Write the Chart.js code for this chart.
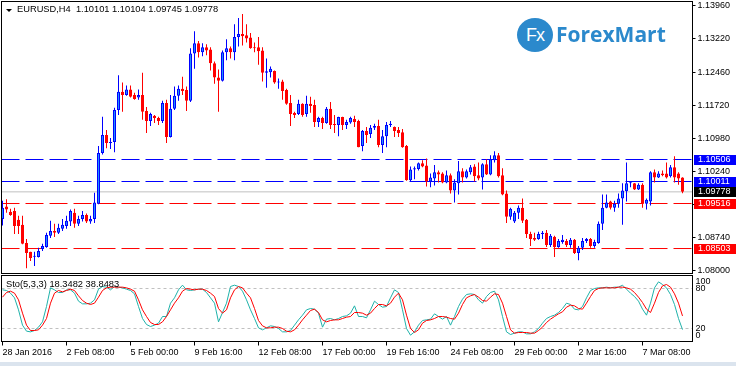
<!DOCTYPE html>
<html>
<head>
<meta charset="utf-8">
<script src="https://cdn.jsdelivr.net/npm/chart.js@4.4.1/dist/chart.umd.min.js"></script>
<style>
	html, body { margin: 0; padding: 0; background: #fff; }
	body { width: 736px; height: 366px; position: relative; overflow: hidden; font-family: 'Liberation Sans', Arial, sans-serif; }
	canvas { position: absolute; left: 0; }
	#price { top: 0; }
	#stoch { top: 274px; }
	.txt { position: absolute; white-space: pre; color: #000; font-size: 9.3px; line-height: 11px; }
	#title { left: 17px; top: 4px; }
	#stoLabel { left: 6px; top: 279px; }
	.tri { position: absolute; left: 6px; top: 9px; width: 0; height: 0; border-left: 3px solid transparent; border-right: 3px solid transparent; border-top: 3px solid #000; }
	.disc { position: absolute; left: 517px; top: 18px; width: 36px; height: 34px; border-radius: 50%; background: #2b89cc; color: #fff; font: 18px 'Liberation Sans', sans-serif; line-height: 34px; text-align: center; letter-spacing: -1px; }
	.brand { position: absolute; left: 556px; top: 21px; color: #2b89cc; font: bold 21px 'Open Sans', sans-serif; line-height: 26px; }
	.strip { position: absolute; left: 0; top: 362px; width: 736px; height: 4px; background: #dbe4ee; }
</style>
</head>
<body>
<canvas id="price" width="736" height="274"></canvas>
<canvas id="stoch" width="736" height="92"></canvas>
<div class="tri"></div>
<div class="txt" id="title"></div>
<div class="txt" id="stoLabel"></div>
<div class="disc">Fx</div>
<div class="brand">ForexMart</div>
<div class="strip"></div>
<script>
	const symbol = 'EURUSD,H4';

	// EURUSD H4 candles, 28 Jan - 9 Mar 2016
	const opens = [
		1.0917, 1.0945, 1.0933, 1.0935, 1.0915, 1.0904, 1.0863, 1.0843, 1.0832, 1.0831,
		1.0849, 1.0854, 1.0879, 1.0890, 1.0886, 1.0895, 1.0901, 1.0911, 1.0931, 1.0906,
		1.0917, 1.0926, 1.0911, 1.0917, 1.0951, 1.1065, 1.1106, 1.1088, 1.1090, 1.1162,
		1.1203, 1.1196, 1.1208, 1.1196, 1.1190, 1.1196, 1.1160, 1.1137, 1.1149, 1.1144,
		1.1137, 1.1178, 1.1101, 1.1165, 1.1194, 1.1210, 1.1207, 1.1183, 1.1289, 1.1312,
		1.1292, 1.1303, 1.1298, 1.1267, 1.1235, 1.1228, 1.1292, 1.1301, 1.1292, 1.1326,
		1.1333, 1.1330, 1.1325, 1.1303, 1.1303, 1.1296, 1.1246, 1.1247, 1.1250, 1.1224,
		1.1226, 1.1207, 1.1178, 1.1155, 1.1153, 1.1176, 1.1153, 1.1176, 1.1173, 1.1135,
		1.1144, 1.1133, 1.1165, 1.1130, 1.1128, 1.1146, 1.1128, 1.1134, 1.1142, 1.1137,
		1.1081, 1.1115, 1.1108, 1.1122, 1.1126, 1.1083, 1.1103, 1.1128, 1.1124, 1.1117,
		1.1112, 1.1081, 1.1004, 1.1028, 1.1029, 1.1042, 1.1037, 1.1001, 1.1008, 1.1022,
		1.1019, 1.0999, 1.1015, 1.0981, 1.0997, 1.1024, 1.1010, 1.1022, 1.1035, 1.1015,
		1.1010, 1.1040, 1.1017, 1.1049, 1.1060, 1.1015, 1.0974, 1.0922, 1.0911, 1.0931,
		1.0942, 1.0915, 1.0883, 1.0874, 1.0872, 1.0883, 1.0886, 1.0858, 1.0877, 1.0854,
		1.0865, 1.0867, 1.0858, 1.0870, 1.0840, 1.0852, 1.0867, 1.0872, 1.0856, 1.0863,
		1.0906, 1.0942, 1.0956, 1.0942, 1.0951, 1.0963, 1.0979, 1.0997, 1.0997, 1.0983,
		1.0994, 1.0951, 1.0956, 1.1022, 1.1010, 1.1019, 1.1019, 1.1013, 1.1033, 1.1019,
		1.10101
	];
	const highs = [
		1.0958, 1.0961, 1.0940, 1.0942, 1.0924, 1.0924, 1.0872, 1.0843, 1.0843, 1.0852,
		1.0861, 1.0886, 1.0913, 1.0906, 1.0906, 1.0917, 1.0924, 1.0938, 1.0940, 1.0924,
		1.0935, 1.0929, 1.0924, 1.0976, 1.1081, 1.1147, 1.1117, 1.1099, 1.1167, 1.1240,
		1.1224, 1.1217, 1.1217, 1.1201, 1.1208, 1.1246, 1.1169, 1.1156, 1.1151, 1.1147,
		1.1183, 1.1185, 1.1196, 1.1215, 1.1217, 1.1237, 1.1215, 1.1301, 1.1339, 1.1317,
		1.1312, 1.1310, 1.1303, 1.1271, 1.1253, 1.1296, 1.1321, 1.1305, 1.1355, 1.1369,
		1.1378, 1.1355, 1.1335, 1.1314, 1.1326, 1.1303, 1.1278, 1.1260, 1.1251, 1.1233,
		1.1230, 1.1210, 1.1196, 1.1158, 1.1185, 1.1177, 1.1194, 1.1192, 1.1185, 1.1147,
		1.1147, 1.1169, 1.1180, 1.1151, 1.1147, 1.1147, 1.1140, 1.1147, 1.1149, 1.1140,
		1.1117, 1.1124, 1.1128, 1.1131, 1.1140, 1.1117, 1.1135, 1.1137, 1.1125, 1.1124,
		1.1119, 1.1083, 1.1035, 1.1035, 1.1044, 1.1049, 1.1053, 1.1019, 1.1038, 1.1026,
		1.1022, 1.1026, 1.1019, 1.1006, 1.1047, 1.1031, 1.1028, 1.1038, 1.1040, 1.1044,
		1.1042, 1.1051, 1.1060, 1.1069, 1.1065, 1.1031, 1.0981, 1.0942, 1.0935, 1.0947,
		1.0963, 1.0917, 1.0888, 1.0886, 1.0888, 1.0890, 1.0892, 1.0883, 1.0879, 1.0872,
		1.0881, 1.0872, 1.0874, 1.0872, 1.0856, 1.0874, 1.0874, 1.0874, 1.0870, 1.0911,
		1.0972, 1.0972, 1.0958, 1.0958, 1.0974, 1.0997, 1.1044, 1.1001, 1.0998, 1.0997,
		1.0997, 1.0963, 1.1024, 1.1028, 1.1024, 1.1026, 1.1044, 1.1038, 1.1058, 1.1022,
		1.10104
	];
	const lows = [
		1.0902, 1.0931, 1.0924, 1.0883, 1.0883, 1.0860, 1.0806, 1.0822, 1.0811, 1.0830,
		1.0845, 1.0852, 1.0874, 1.0876, 1.0883, 1.0890, 1.0895, 1.0901, 1.0897, 1.0901,
		1.0911, 1.0908, 1.0906, 1.0908, 1.0950, 1.1062, 1.1076, 1.1074, 1.1067, 1.1151,
		1.1158, 1.1194, 1.1190, 1.1185, 1.1185, 1.1140, 1.1110, 1.1126, 1.1133, 1.1128,
		1.1133, 1.1088, 1.1100, 1.1162, 1.1183, 1.1196, 1.1160, 1.1180, 1.1255, 1.1280,
		1.1283, 1.1285, 1.1251, 1.1221, 1.1158, 1.1226, 1.1274, 1.1278, 1.1274, 1.1305,
		1.1307, 1.1314, 1.1300, 1.1292, 1.1264, 1.1226, 1.1212, 1.1235, 1.1221, 1.1210,
		1.1185, 1.1174, 1.1126, 1.1144, 1.1151, 1.1147, 1.1147, 1.1156, 1.1124, 1.1124,
		1.1119, 1.1131, 1.1119, 1.1110, 1.1103, 1.1117, 1.1119, 1.1131, 1.1124, 1.1078,
		1.1069, 1.1088, 1.1099, 1.1117, 1.1078, 1.1065, 1.1078, 1.1124, 1.1101, 1.1101,
		1.1077, 1.1003, 1.1001, 1.1006, 1.1026, 1.1033, 1.0990, 1.0988, 1.0992, 1.0999,
		1.0997, 1.0997, 1.0974, 1.0954, 1.0972, 1.0999, 1.1008, 1.1017, 1.1001, 1.1004,
		1.0983, 1.1016, 1.1015, 1.1044, 1.1010, 1.0970, 1.0908, 1.0915, 1.0908, 1.0917,
		1.0908, 1.0874, 1.0856, 1.0867, 1.0870, 1.0872, 1.0854, 1.0854, 1.0831, 1.0852,
		1.0861, 1.0854, 1.0852, 1.0838, 1.0824, 1.0847, 1.0863, 1.0852, 1.0852, 1.0861,
		1.0892, 1.0941, 1.0938, 1.0933, 1.0942, 1.0904, 1.0956, 1.0988, 1.0982, 1.0982,
		1.0942, 1.0938, 1.0947, 1.0999, 1.1009, 1.1013, 1.1008, 1.1010, 1.0999, 1.0994,
		1.09745
	];
	const closes = [
		1.0942, 1.0938, 1.0926, 1.0901, 1.0901, 1.0861, 1.0840, 1.0829, 1.0834, 1.0845,
		1.0856, 1.0881, 1.0890, 1.0886, 1.0897, 1.0904, 1.0913, 1.0935, 1.0906, 1.0917,
		1.0926, 1.0911, 1.0917, 1.0954, 1.1065, 1.1106, 1.1088, 1.1090, 1.1162, 1.1203,
		1.1196, 1.1208, 1.1192, 1.1187, 1.1196, 1.1158, 1.1137, 1.1153, 1.1144, 1.1137,
		1.1178, 1.1101, 1.1165, 1.1194, 1.1210, 1.1205, 1.1183, 1.1289, 1.1312, 1.1292,
		1.1303, 1.1296, 1.1267, 1.1235, 1.1228, 1.1292, 1.1301, 1.1292, 1.1326, 1.1333,
		1.1328, 1.1323, 1.1301, 1.1301, 1.1294, 1.1246, 1.1249, 1.1255, 1.1224, 1.1226,
		1.1205, 1.1176, 1.1153, 1.1151, 1.1176, 1.1151, 1.1176, 1.1171, 1.1135, 1.1144,
		1.1133, 1.1165, 1.1128, 1.1128, 1.1146, 1.1128, 1.1135, 1.1144, 1.1135, 1.1078,
		1.1115, 1.1106, 1.1122, 1.1126, 1.1083, 1.1103, 1.1128, 1.1131, 1.1115, 1.1110,
		1.1078, 1.1004, 1.1028, 1.1031, 1.1042, 1.1035, 1.1001, 1.1010, 1.1022, 1.1017,
		1.0999, 1.1015, 1.0981, 1.0999, 1.1024, 1.1010, 1.1024, 1.1033, 1.1013, 1.1008,
		1.1040, 1.1017, 1.1051, 1.1060, 1.1013, 1.0972, 1.0922, 1.0940, 1.0931, 1.0942,
		1.0913, 1.0883, 1.0872, 1.0870, 1.0883, 1.0886, 1.0858, 1.0879, 1.0854, 1.0867,
		1.0870, 1.0858, 1.0870, 1.0840, 1.0852, 1.0867, 1.0872, 1.0856, 1.0865, 1.0906,
		1.0942, 1.0954, 1.0942, 1.0951, 1.0963, 1.0981, 1.0997, 1.0999, 1.0983, 1.0994,
		1.0951, 1.0960, 1.1022, 1.1010, 1.1019, 1.1015, 1.1010, 1.1033, 1.1010, 1.1008,
		1.09778
	];

	// Stochastic(5,3,3): %K main line and %D signal line
	const stochK = [
		78, 77, 73, 66, 48, 25, 16, 15, 17, 22, 30, 53, 81, 78, 74, 74, 78, 78, 73, 61,
		57, 57, 58, 63, 79, 83, 82, 78, 83, 82, 81, 79, 77, 72, 53, 35, 26, 23, 25, 28,
		38, 38, 58, 66, 78, 85, 78, 77, 78, 79, 79, 74, 66, 58, 30, 44, 58, 83, 85, 83,
		76, 63, 48, 35, 21, 18, 21, 24, 23, 20, 15, 15, 17, 25, 33, 40, 48, 50, 49, 43,
		22, 34, 35, 33, 35, 38, 39, 43, 54, 38, 38, 36, 48, 61, 56, 52, 53, 66, 78, 74,
		48, 20, 10, 15, 25, 32, 33, 34, 42, 38, 34, 38, 25, 38, 53, 64, 71, 72, 71, 63,
		58, 68, 74, 76, 63, 38, 15, 11, 13, 15, 15, 12, 12, 15, 20, 28, 35, 38, 40, 44,
		50, 58, 56, 49, 48, 53, 66, 77, 80, 81, 81, 82, 81, 82, 82, 85, 79, 73, 68, 61,
		49, 40, 58, 81, 90, 86, 81, 71, 56, 35, 18.3482
	];
	const stochD = [
		67, 74, 76, 73, 63, 43, 25, 17, 17, 18, 25, 35, 58, 73, 77, 75, 77, 79, 77, 69,
		62, 58, 56, 58, 67, 77, 81, 82, 82, 82, 82, 81, 79, 76, 63, 48, 38, 29, 26, 26,
		30, 38, 48, 58, 66, 76, 80, 79, 78, 79, 79, 77, 73, 68, 50, 43, 48, 66, 78, 83,
		81, 73, 66, 50, 32, 24, 21, 21, 22, 22, 20, 16, 15, 18, 25, 33, 40, 47, 49, 44,
		33, 30, 32, 33, 33, 35, 37, 38, 44, 44, 43, 40, 43, 50, 56, 56, 54, 58, 67, 73,
		63, 40, 20, 14, 18, 28, 32, 33, 35, 38, 38, 37, 35, 34, 43, 56, 66, 69, 71, 67,
		62, 61, 67, 72, 71, 58, 38, 18, 13, 14, 14, 14, 13, 13, 17, 22, 29, 34, 38, 42,
		45, 52, 55, 54, 50, 49, 58, 68, 77, 80, 81, 81, 81, 81, 82, 82, 81, 79, 74, 67,
		59, 49, 44, 58, 74, 84, 86, 82, 72, 58, 38.8483
	];

	const resistLevels = [1.10506, 1.10011];
	const supportLevels = [1.09516, 1.08503];
	const bidPrice = 1.09778;
	// [price, first bar, last bar]
	const resistSegments = [[1.10011, 102, 118.5]];
	const supportSegments = [[1.08503, 138, 148]];

	const priceTicks = [1.13960, 1.13220, 1.12460, 1.11720, 1.10980, 1.10240, 1.09500, 1.08740, 1.08000];
	const stochTicks = [0, 20, 80, 100];
	const stochLevels = [20, 80];
	const dateTickBars = [0, 16, 32, 48, 64, 80, 96, 112, 128, 144, 160];
	const dateLabels = ['28 Jan 2016', '2 Feb 08:00', '5 Feb 00:00', '9 Feb 16:00', '12 Feb 08:00', '17 Feb 00:00',
		'19 Feb 16:00', '24 Feb 08:00', '29 Feb 00:00', '2 Mar 16:00', '7 Mar 08:00'];

	const BULL = '#0000ff';
	const BULL_FILL = '#1e90ff';
	const BEAR = '#ff0000';
	const FONT = { family: 'Liberation Sans', size: 9 };
	const X_MIN = -0.25;
	const X_MAX = 172.5;

	const last = closes.length - 1;
	document.getElementById('title').textContent =
		symbol + '  ' + [opens[last], highs[last], lows[last], closes[last]].map(v => v.toFixed(5)).join(' ');
	document.getElementById('stoLabel').textContent =
		'Sto(5,3,3) ' + stochK[last].toFixed(4) + ' ' + stochD[last].toFixed(4);

	const bars = closes.map((_, i) => i);
	const isBull = i => closes[i] >= opens[i];

	const hLine = (y, x0, x1, color, dash, order) => ({
		type: 'line',
		data: [{ x: x0, y }, { x: x1, y }],
		borderColor: color,
		borderWidth: 1,
		borderDash: dash,
		pointRadius: 0,
		order
	});

	// keep chart.js from reserving room for half tick labels
	const noPad = s => { s.paddingTop = 0; s.paddingBottom = 0; s.paddingLeft = 0; s.paddingRight = 0; };

	const framePlugin = {
		id: 'frame',
		afterDatasetsDraw(chart) {
			const { ctx, chartArea: a } = chart;
			ctx.save();
			ctx.strokeStyle = '#000';
			ctx.lineWidth = 1;
			ctx.strokeRect(a.left, a.top, a.right - a.left, a.bottom - a.top);
			ctx.restore();
		}
	};

	const boxLevels = [
		...resistLevels.map(v => ({ value: v, color: BULL })),
		{ value: bidPrice, color: '#000000' },
		...supportLevels.map(v => ({ value: v, color: BEAR }))
	];

	const priceBoxes = {
		id: 'priceBoxes',
		afterDraw(chart) {
			const { ctx, chartArea: a, scales: { y } } = chart;
			ctx.save();
			ctx.font = '9px "Liberation Sans"';
			ctx.textBaseline = 'middle';
			boxLevels.forEach(l => {
				const py = Math.round(y.getPixelForValue(l.value));
				ctx.fillStyle = l.color;
				ctx.fillRect(a.right + 1.5, py - 5, chart.width - a.right, 10);
				ctx.fillStyle = '#fff';
				ctx.fillText(l.value.toFixed(5), a.right + 5.5, py);
			});
			ctx.restore();
		}
	};

	const stochAxisLabels = {
		id: 'stochAxisLabels',
		afterDraw(chart) {
			const { ctx, chartArea: a, scales: { y } } = chart;
			ctx.save();
			ctx.font = '9px "Liberation Sans"';
			ctx.fillStyle = '#000';
			ctx.textBaseline = 'middle';
			stochTicks.forEach(v => {
				let py = y.getPixelForValue(v);
				if (v === 100) py = a.top + 6;
				if (v === 0) py = a.bottom - 6;
				ctx.fillText(String(v), a.right + 3, py);
			});
			ctx.restore();
		}
	};

	new Chart(document.getElementById('price'), {
		type: 'bar',
		data: {
			datasets: [
				{
					data: bars.map(i => ({ x: i, y: [opens[i], closes[i]] })),
					backgroundColor: bars.map(i => isBull(i) ? BULL_FILL : BEAR),
					borderColor: bars.map(i => isBull(i) ? BULL : BEAR),
					borderWidth: 1,
					borderSkipped: false,
					barThickness: 3,
					minBarLength: 1,
					inflateAmount: 0,
					grouped: false,
					order: 0
				},
				{
					data: bars.map(i => ({ x: i, y: [lows[i], highs[i]] })),
					backgroundColor: bars.map(i => isBull(i) ? BULL : BEAR),
					borderWidth: 0,
					barThickness: 1,
					inflateAmount: 0,
					grouped: false,
					order: 1
				},
				...resistLevels.map(v => hLine(v, X_MIN, X_MAX, BULL, [18, 6], 2)),
				...supportLevels.map(v => hLine(v, X_MIN, X_MAX, BEAR, [18, 6], 2)),
				...resistSegments.map(s => hLine(s[0], s[1], s[2], BULL, [], 2)),
				...supportSegments.map(s => hLine(s[0], s[1], s[2], BEAR, [], 2)),
				hLine(bidPrice, X_MIN, X_MAX, '#c0c0c0', [], 3)
			]
		},
		options: {
			responsive: false,
			animation: false,
			devicePixelRatio: 1,
			layout: { padding: { left: 1.5, top: 1.5, right: 0, bottom: 0.5 } },
			plugins: { legend: { display: false }, tooltip: { enabled: false } },
			scales: {
				x: { type: 'linear', min: X_MIN, max: X_MAX, offset: false, display: false },
				y: {
					position: 'right',
					min: 1.07941,
					max: 1.14061,
					afterBuildTicks: s => { s.ticks = priceTicks.map(v => ({ value: v })); },
					afterFit: s => { s.width = 43.5; noPad(s); },
					ticks: { font: FONT, color: '#000', padding: 2, callback: v => v.toFixed(5) },
					grid: { drawOnChartArea: false, tickLength: 3, color: '#000' },
					border: { display: false }
				}
			}
		},
		plugins: [framePlugin, priceBoxes]
	});

	new Chart(document.getElementById('stoch'), {
		type: 'line',
		data: {
			datasets: [
				{ data: bars.map(i => ({ x: i, y: stochK[i] })), borderColor: '#20b2aa', borderWidth: 1, pointRadius: 0, order: 1 },
				{ data: bars.map(i => ({ x: i, y: stochD[i] })), borderColor: '#ff0000', borderWidth: 1, pointRadius: 0, order: 0 },
				...stochLevels.map(v => hLine(v, X_MIN, X_MAX, '#c0c0c0', [3, 3], 2))
			]
		},
		options: {
			responsive: false,
			animation: false,
			devicePixelRatio: 1,
			layout: { padding: { left: 1.5, top: 1.5, right: 0, bottom: 0 } },
			plugins: { legend: { display: false }, tooltip: { enabled: false } },
			scales: {
				x: {
					type: 'linear',
					min: X_MIN,
					max: X_MAX,
					afterBuildTicks: s => { s.ticks = dateTickBars.map(v => ({ value: v })); },
					afterFit: s => { s.height = 24.5; noPad(s); },
					ticks: {
						font: FONT, color: '#000', padding: 2, align: 'start', maxRotation: 0, autoSkip: false,
						callback: v => dateLabels[dateTickBars.indexOf(v)]
					},
					grid: { drawOnChartArea: false, tickLength: 4, color: '#000' },
					border: { display: false }
				},
				y: {
					position: 'right',
					min: 0.5,
					max: 99.5,
					afterBuildTicks: s => { s.ticks = stochTicks.map(v => ({ value: v })); },
					afterFit: s => { s.width = 43.5; noPad(s); },
					ticks: { display: false },
					grid: { display: false },
					border: { display: false }
				}
			}
		},
		plugins: [framePlugin, stochAxisLabels]
	});
</script>
</body>
</html>
